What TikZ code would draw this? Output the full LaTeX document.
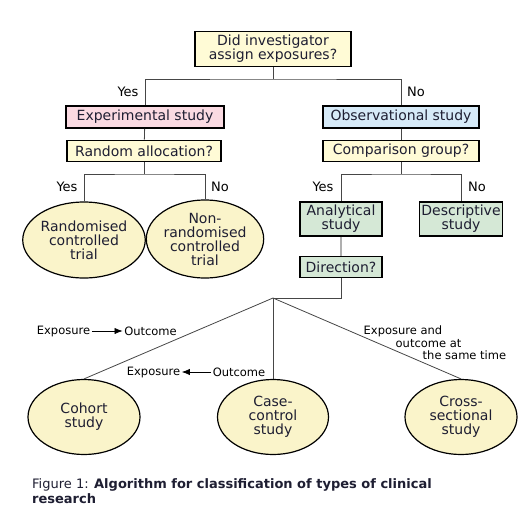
\documentclass[tikz,border=0pt]{standalone}
\usepackage{fontspec}
\setmainfont{DejaVu Sans}
\usepackage{tikz}
\usetikzlibrary{
  shapes.geometric,
  arrows.meta
}
\definecolor{questioncolor}{RGB}{255, 251, 214}
\definecolor{expercolor}{RGB}{250, 218, 226}
\definecolor{observcolor}{RGB}{214, 234, 248}
\definecolor{analytcolor}{RGB}{213, 232, 214}
\definecolor{outcomecolor}{RGB}{250, 244, 202}
\definecolor{linecolor}{RGB}{70, 70, 70}
\definecolor{lightlinecolor}{RGB}{175, 175, 175}
\definecolor{labelcolor}{RGB}{30, 30, 50}
\tikzset{
boxtext/.style={
  align=center,
  font=\fontsize{14}{14}\selectfont,
  text=labelcolor
},
questionbox/.style={
  draw=black,
  line width=1.6pt,
  fill=questioncolor,
  inner sep=0pt,
  boxtext
},
experbox/.style={
  questionbox,
  fill=expercolor
},
observbox/.style={
  questionbox,
  fill=observcolor
},
analytbox/.style={
  questionbox,
  fill=analytcolor
},
studyellipse/.style={
  ellipse,
  draw=black,
  line width=1.2pt,
  fill=outcomecolor,
  inner sep=0pt,
  minimum width=112pt,
  minimum height=76pt,
  boxtext
},
branchlabel/.style={
  font=\fontsize{13}{13}\selectfont,
  text=black
},
smalllabel/.style={
  font=\fontsize{11.5}{12.5}\selectfont,
  text=black,
  inner sep=1.5pt
},
connector/.style={
  draw=linecolor,
  line width=0.8pt
},
lightconnector/.style={
  draw=lightlinecolor,
  line width=1.4pt
},
arrow/.style={
  -{Latex[length=2.8mm,width=2.2mm]},
  line width=0.7pt,
  draw=black
}
}
\begin{document}
\begin{tikzpicture}[x=1pt,y=-1pt]
  \useasboundingbox (0,0) rectangle (518,508);
  \node[questionbox, minimum width=156pt, minimum height=35pt] (assign) at (273,49) {Did investigator\\assign exposures?};
  \node[experbox, minimum width=158pt, minimum height=22pt] (exper) at (145,117) {Experimental study};
  \node[observbox, minimum width=156pt, minimum height=22pt] (observ) at (401,117) {Observational study};
  \node[questionbox, minimum width=154pt, minimum height=21pt] (randq) at (144,151) {Random allocation?};
  \node[questionbox, minimum width=156pt, minimum height=21pt] (compq) at (401,151) {Comparison group?};
  \node[studyellipse] (rct) at (84,240) {Randomised\\controlled\\trial};
  \node[studyellipse, minimum height=78pt] (nrct) at (205,239) {Non-\\randomised\\controlled\\trial};
  \node[analytbox, minimum width=82pt, minimum height=34pt] (analyt) at (341,219) {Analytical\\study};
  \node[analytbox, minimum width=83pt, minimum height=34pt] (descr) at (461,219) {Descriptive\\study};
  \node[analytbox, minimum width=82pt, minimum height=21pt] (direct) at (341,267) {Direction?};
  \node[studyellipse, minimum height=75pt] (cohort) at (84,417) {Cohort\\study};
  \node[studyellipse, minimum width=111pt, minimum height=75pt] (casectl) at (273,417) {Case-\\control\\study};
  \node[studyellipse, minimum height=75pt] (cross) at (461,417) {Cross-\\sectional\\study};

  \coordinate (split1) at (273,79);
  \coordinate (split2) at (144,174);
  \coordinate (split3) at (401,174);
  \coordinate (split4) at (273,298);

  \draw[connector] (assign) -- (split1);
  \draw[connector] (exper.north) |- (split1) -| (observ.north);
  \draw[connector] (exper) -- (randq);
  \draw[connector] (observ) -- (compq);
  \draw[connector] (randq) -- (split2);
  \draw[connector] (rct.north) |- (split2) -| (nrct.north);
  \draw[connector] (compq) -- (split3);
  \draw[connector] (analyt.north) |- (split3) -| (descr.north);
  \draw[lightconnector] (analyt) -- (direct);
  \draw[connector] (direct.south) |- (split4);
  \draw[connector] (split4) -- (cohort.north);
  \draw[connector] (split4) -- (casectl.north);
  \draw[connector] (split4) -- (cross.north);

  \node[branchlabel] (yes1) at (128,92) {Yes};
  \node[branchlabel] (no1) at (416,92) {No};
  \node[branchlabel] (yes2) at (67,187) {Yes};
  \node[branchlabel] (no2) at (220,187) {No};
  \node[branchlabel] (yes3) at (323,187) {Yes};
  \node[branchlabel] (no3) at (477,187) {No};

  \node[smalllabel] (expA) at (63.5,331) {Exposure};
  \node[smalllabel] (outA) at (150.5,331) {Outcome};
  \draw[arrow] (expA) -- (outA);
  \node[smalllabel] (expB) at (153.5,372) {Exposure};
  \node[smalllabel] (outB) at (239,372) {Outcome};
  \draw[arrow] (outB) -- (expB);
  \node[smalllabel, align=left, anchor=west] (sametime) at (362,343) {Exposure and\\\hspace*{32pt}outcome at\\\hspace*{59pt}the same time};

  \node[anchor=base west, align=left, inner sep=0pt, font=\fontsize{13}{15}\selectfont, text=labelcolor] (caption) at (32,503) {Figure 1: \textbf{Algorithm for classification of types of clinical}\\\textbf{research}};
\end{tikzpicture}
\end{document}
